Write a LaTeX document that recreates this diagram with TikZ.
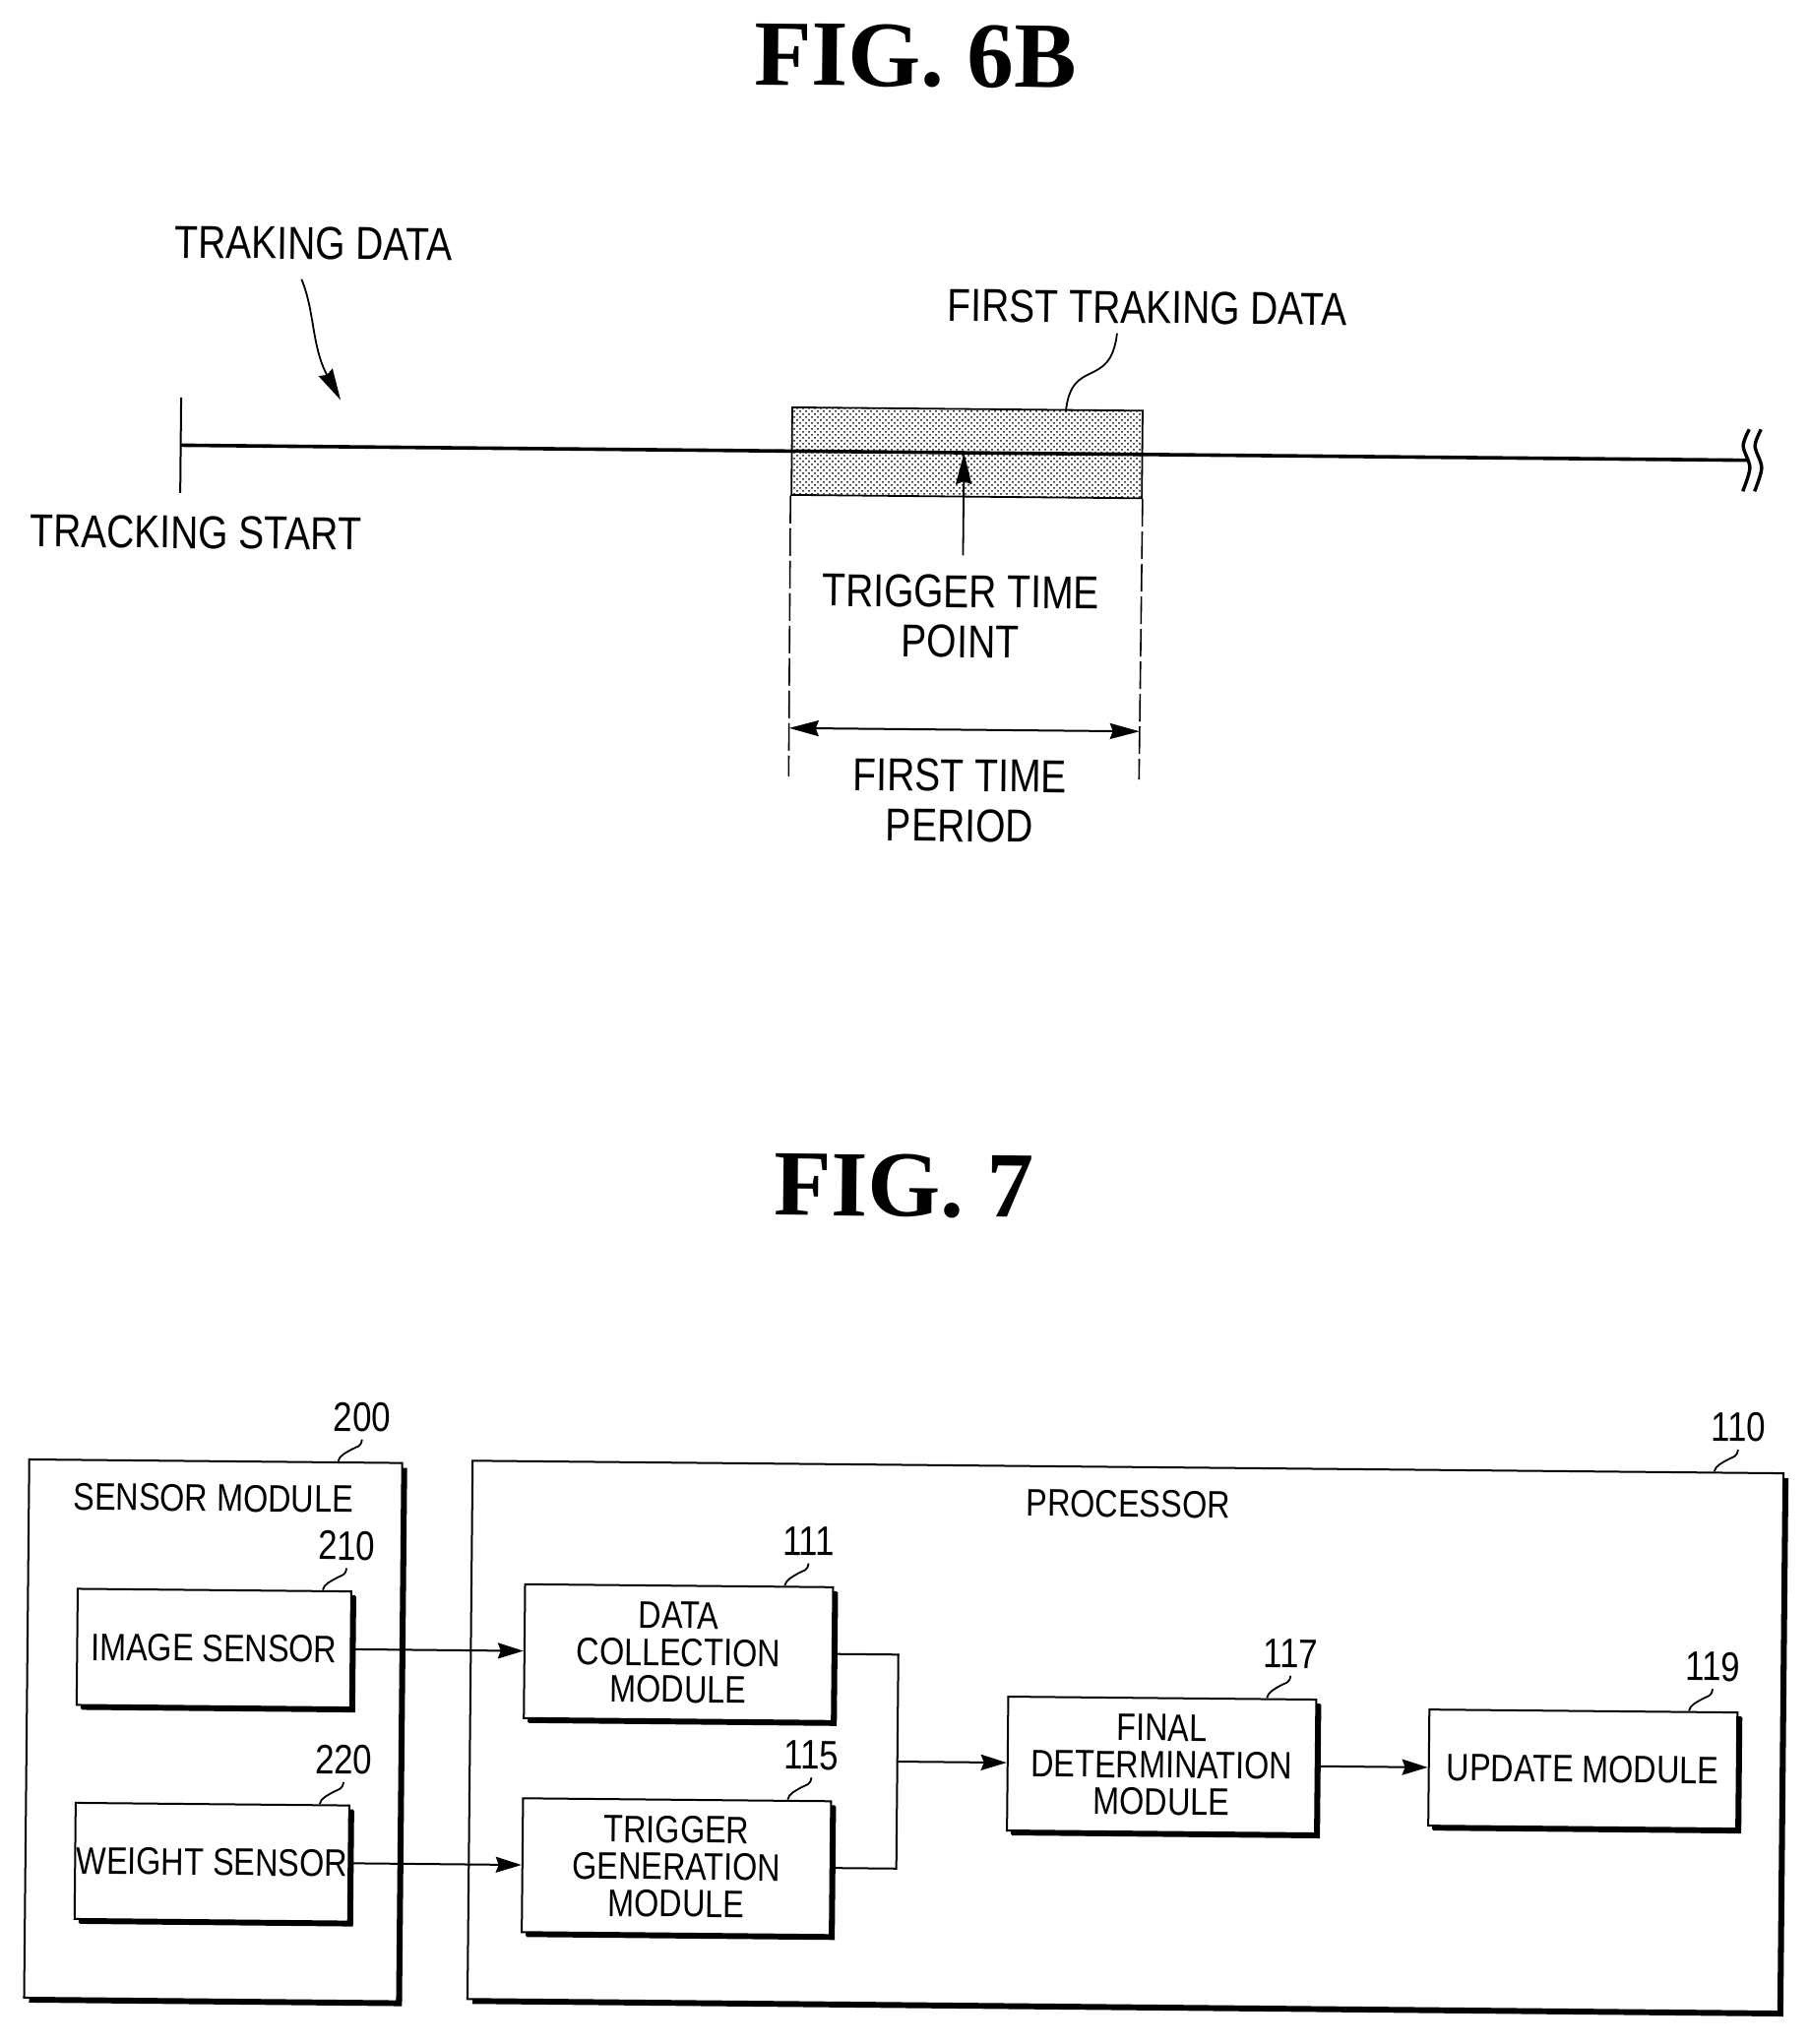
\documentclass[tikz,border=0pt]{standalone}
\usepackage{fontspec}
\setmainfont[FakeStretch=0.83]{Liberation Sans}
\newfontfamily\figfont{Liberation Serif}
\usetikzlibrary{arrows.meta,calc,patterns,shadows}

\tikzset{
	figtitle/.style={inner sep=0, font=\figfont\bfseries\fontsize{47.5}{50}\selectfont},
	bigtext/.style={inner sep=0, outer sep=5pt, align=center, font=\fontsize{23.5}{25.5}\selectfont},
	smalltext/.style={inner sep=0, align=center, font=\fontsize{19.5}{18.8}\selectfont},
	reflabel/.style={inner sep=0, outer sep=4pt, font=\fontsize{21}{22}\selectfont},
	panel/.style={draw, fill=white, line width=1pt, drop shadow={shadow xshift=2.5pt, shadow yshift=-2.5pt, opacity=1, fill=black}},
	modbox/.style={panel, inner sep=0, align=center, font=\fontsize{19.5}{18.8}\selectfont, minimum width=156.5pt, minimum height=68pt, drop shadow={shadow xshift=2pt, shadow yshift=-2pt, opacity=1, fill=black}},
	sensbox/.style={modbox, minimum width=139pt, minimum height=59pt},
	flow/.style={line width=1pt, -{Stealth[length=13pt,width=8pt,inset=1.5pt]}},
	bus/.style={line width=1pt},
	leader/.style={line width=.9pt},
	longtip/.style={line width=.9pt, -{Stealth[length=16pt,width=8pt,inset=1.5pt]}},
	spanline/.style={line width=1pt, {Stealth[length=15pt,width=8pt,inset=1.5pt]}-{Stealth[length=15pt,width=8pt,inset=1.5pt]}},
	dashline/.style={line width=.8pt, dash pattern=on 14pt off 2.5pt},
	timeline/.style={line width=1.8pt},
	cutmark/.style={line width=1.7pt},
}

% number over a box with its small curved line
\newcommand{\refmark}[3]{
	\coordinate (t#3) at ($(#1.north east)+(#2,0)$);
	\node [reflabel] (n#3) at ($(t#3)+(24,-45)$) {#3};
	\draw [leader] (n#3.south) .. controls +(-1,8) and +(5,-3) .. ++(-10,10) .. controls +(-5,3) and +(1,-6) .. (t#3);
}

\begin{document}
\begin{tikzpicture}[x=.5pt, y=-.5pt]
	\useasboundingbox (0,0) rectangle (1837,2077);
	\begin{scope}[rotate around={-0.55:(918.5,1038.5)}, transform shape]
	\node [figtitle] (titleb) at (921,57) {FIG. 6B};
	\node [figtitle] (titlec) at (920,1205) {FIG. 7};

	% time line
	\node [draw, line width=.9pt, pattern=crosshatch dots, minimum width=178pt, minimum height=44.5pt, inner sep=0] (holdbox) at (977,459.5) {};
	\coordinate (ttop) at (178,411);
	\coordinate (tbot) at (178,508);
	\coordinate (tstart) at (178,459.5);
	\coordinate (tend) at (1771,459.5);
	\coordinate (trigpt) at (974,459.5);
	\draw [line width=1pt] (ttop) -- (tbot);
	\draw [timeline] (tstart) -- (tend);
	\foreach \bx in {1771.5,1783.5}
		\draw [cutmark] plot [smooth] coordinates {(\bx,428) (\bx-6,445) (\bx+1,467) (\bx-6,491)};

	\node [bigtext, outer sep=10pt] (tdata) at (311,253) {TRAKING DATA};
	\node [bigtext] (fdata) at (1159,310) {FIRST TRAKING DATA};
	\node [bigtext] (tsname) at (194,548) {TRACKING START};
	\node [bigtext, outer sep=10pt] (trigname) at (972,626) {TRIGGER TIME\\POINT};
	\node [bigtext] (spanname) at (973,813) {FIRST TIME\\PERIOD};

	\coordinate (tdtip) at (340,412);
	\coordinate (fdtip) at (1077,417);
	\draw [longtip] (tdata.-108) .. controls (313,322) and (310,358) .. (tdtip);
	\draw [leader] (fdata.-139) .. controls (1122,395) and (1082,360) .. (fdtip);
	\draw [longtip] (trigname.north -| trigpt) -- (trigpt);

	\coordinate (dashl) at (799,790);
	\coordinate (dashr) at (1155,790);
	\coordinate (spanl) at (799,741);
	\coordinate (spanr) at (1155,741);
	\draw [dashline] (holdbox.south west) -- (dashl);
	\draw [dashline] (holdbox.south east) -- (dashr);
	\draw [spanline] (spanl) -- (spanr);

	% block diagram
	\node [panel, minimum width=189.5pt, minimum height=273.5pt, inner sep=0] (sensormod) at (223.5,1765) {};
	\node [panel, minimum width=666pt, minimum height=273.5pt, inner sep=0] (proc) at (1150.5,1762) {};
	\node [smalltext] (sensorname) at (221.5,1529) {SENSOR MODULE};
	\node [smalltext] (procname) at (1151,1526) {PROCESSOR};

	\node [sensbox] (imgsens) at (223.5,1681.5) {IMAGE SENSOR};
	\node [sensbox] (wgtsens) at (223.5,1899) {WEIGHT SENSOR};
	\node [modbox] (collect) at (695.5,1681.5) {DATA\\COLLECTION\\MODULE};
	\node [modbox] (trigger) at (695.5,1899) {TRIGGER\\GENERATION\\MODULE};
	\node [modbox] (final) at (1187.5,1791) {FINAL\\DETERMINATION\\MODULE};
	\node [modbox, minimum height=59pt] (update) at (1615.5,1791) {UPDATE MODULE};
	\coordinate (join) at (919,1790.25);

	\draw [flow] (imgsens) -- (collect);
	\draw [flow] (wgtsens) -- (trigger);
	\draw [bus] (collect.east) -| (join) |- (trigger.east);
	\draw [flow] (join) -- (final.west |- join);
	\draw [flow] (final) -- (update);

	\refmark{sensormod}{-66}{200}
	\refmark{proc}{-71}{110}
	\refmark{imgsens}{-30}{210}
	\refmark{wgtsens}{-31}{220}
	\refmark{collect}{-50}{111}
	\refmark{trigger}{-45}{115}
	\refmark{final}{-51}{117}
	\refmark{update}{-50}{119}
	\end{scope}
\end{tikzpicture}
\end{document}
